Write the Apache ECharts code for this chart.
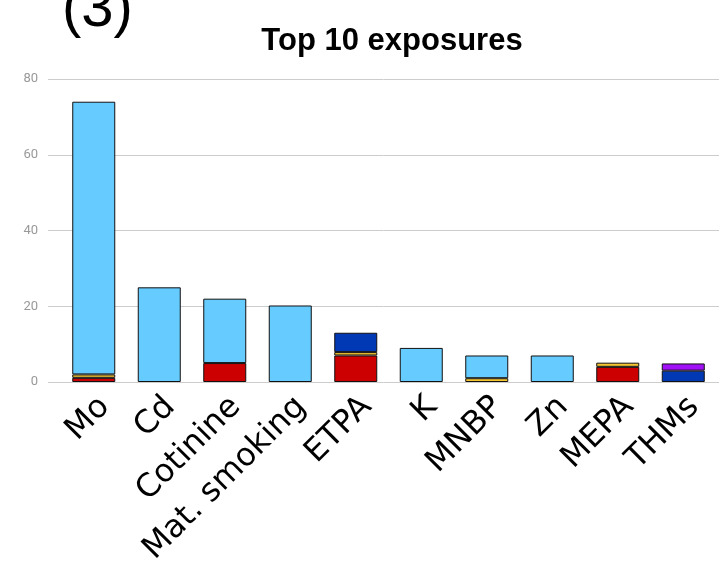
<!DOCTYPE html>
<html>
<head>
<meta charset="utf-8">
<script src="https://cdn.jsdelivr.net/npm/echarts@6/dist/echarts.min.js"></script>
<style>html,body{margin:0;padding:0;background:#fff;}#c{width:719px;height:563px;}</style>
</head>
<body>
<div id="c"></div>
<script>
const categories = ['Mo','Cd','Cotinine','Mat. smoking','ETPA','K','MNBP','Zn','MEPA','THMs'];
const redVals    = [1.1, 0, 5, 0, 7, 0, 0, 0, 4, 0];
const yellowVals = [0.9, 0, 0, 0, 0.9, 0, 1, 0, 1.1, 0];
const lightBlueVals = [72, 25, 17, 20.2, 0, 9, 6, 7, 0, 0];
const darkBlueVals  = [0, 0, 0, 0, 5.1, 0, 0, 0, 0, 3];
const purpleVals    = [0, 0, 0, 0, 0, 0, 0, 0, 0, 1.9];
const yTicks = [0, 20, 40, 60, 80];

const chart = echarts.init(document.getElementById('c'));
function s(name, data, color){
  return {
    name, type:'bar', stack:'total', data: data.map(v => v === 0 ? null : v),
    xAxisIndex:0, yAxisIndex:0, barWidth:43,
    itemStyle:{color, borderColor:'#111', borderWidth:1}
  };
}
chart.setOption({
  animation:false,
  title:[
    {text:'Top 10 exposures', left:387, top:21, textAlign:'center',
     textStyle:{fontFamily:'Liberation Sans, Arial', fontSize:31, fontWeight:'bold', color:'#000'}},
    {text:'(3)', left:57, top:-24,
     textStyle:{fontFamily:'Liberation Sans, Arial', fontSize:58, fontWeight:'normal', color:'#000'}}
  ],
  grid:[
    {left:61, right:3, top:79, bottom:181, containLabel:false, outerBoundsMode:'none'},
    {left:48, right:0, top:79, bottom:181, containLabel:false, outerBoundsMode:'none'},
    {left:72, right:-8, top:79, bottom:181, containLabel:false, outerBoundsMode:'none'}
  ],
  xAxis:[
    {type:'category', gridIndex:0, data:categories,
     axisLine:{show:false}, axisTick:{show:false}, axisLabel:{show:false}},
    {type:'category', gridIndex:1, data:[''], show:false},
    {type:'category', gridIndex:2, data:categories,
     axisLine:{show:false}, axisTick:{show:false},
     axisLabel:{rotate:45, interval:0, margin:20, fontSize:32, color:'#000', fontFamily:'DejaVu Sans'}}
  ],
  yAxis:[
    {type:'value', gridIndex:0, min:0, max:80, interval:20, show:false},
    {type:'value', gridIndex:1, min:yTicks[0], max:yTicks[yTicks.length-1], interval:20,
     axisLine:{show:false}, axisTick:{show:false},
     axisLabel:{color:'#999', fontSize:13, margin:10, fontFamily:'Roboto, Arial'},
     splitLine:{lineStyle:{color:'#ccc', width:1}}},
    {type:'value', gridIndex:2, min:0, max:80, interval:20, show:false}
  ],
  series:[
    s('Red', redVals, '#cc0000'),
    s('Yellow', yellowVals, '#f5c431'),
    s('Light blue', lightBlueVals, '#66ccff'),
    s('Dark blue', darkBlueVals, '#0039b3'),
    s('Purple', purpleVals, '#a111f5'),
    {type:'bar', xAxisIndex:1, yAxisIndex:1, data:[], silent:true},
    {type:'bar', xAxisIndex:2, yAxisIndex:2, data:[], silent:true}
  ]
});
</script>
</body>
</html>
